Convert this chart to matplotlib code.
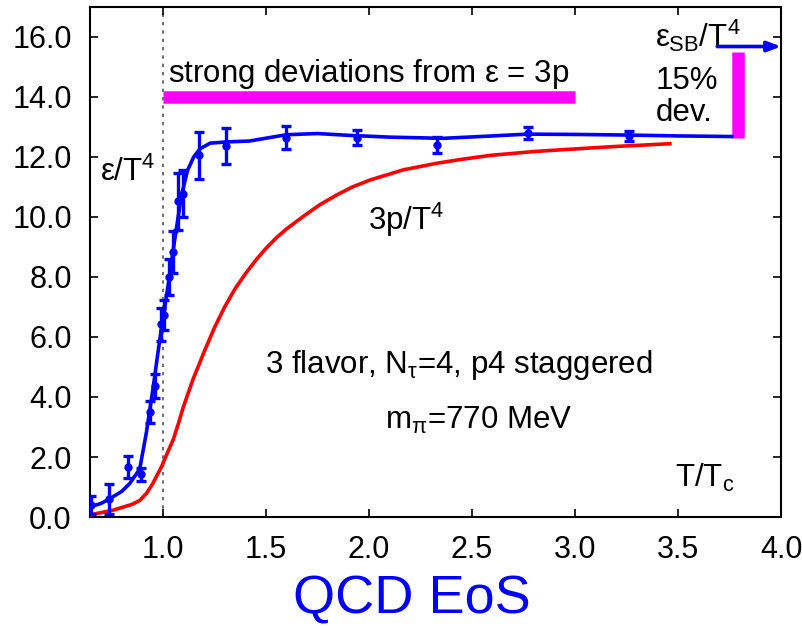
import matplotlib
matplotlib.use("Agg")
import matplotlib.pyplot as plt

plt.rcParams['font.family'] = ['Liberation Sans', 'DejaVu Sans']
plt.rcParams['mathtext.fontset'] = 'custom'
plt.rcParams['mathtext.rm'] = 'Liberation Sans'
plt.rcParams['mathtext.it'] = 'Liberation Sans'

# Lattice data points: energy density eps/T^4 vs T/Tc
eps_T = [0.65, 0.74, 0.833, 0.895, 0.938, 0.961, 0.99, 1.005, 1.028, 1.05,
         1.076, 1.10, 1.177, 1.305, 1.60, 1.94, 2.33, 2.77, 3.26]
eps_val = [0.4, 0.59, 1.66, 1.42, 3.5, 4.37, 6.43, 6.73, 7.99, 8.82,
           10.53, 10.77, 12.05, 12.37, 12.64, 12.64, 12.4, 12.79, 12.7]
eps_err = [0.3, 0.5, 0.37, 0.22, 0.38, 0.4, 0.55, 0.5, 0.6, 0.7,
           0.95, 0.78, 0.77, 0.6, 0.38, 0.25, 0.27, 0.2, 0.17]

# Fit curve for eps/T^4
fit_T = [0.646, 0.70, 0.74, 0.80, 0.84, 0.888, 0.92, 0.953, 0.985, 1.01,
         1.034, 1.058, 1.09, 1.12, 1.15, 1.18, 1.23, 1.31, 1.42, 1.6,
         1.75, 1.9, 2.1, 2.36, 2.6, 2.77, 3.0, 3.25, 3.5, 3.76]
fit_val = [0.34, 0.45, 0.6, 0.85, 1.12, 1.6, 2.8, 4.3, 5.9, 7.0,
           8.1, 9.25, 10.7, 11.55, 12.0, 12.27, 12.46, 12.5, 12.53, 12.74,
           12.78, 12.72, 12.66, 12.62, 12.7, 12.76, 12.75, 12.73, 12.7, 12.68]

# 3p/T^4 curve
p_T = [0.646, 0.76, 0.85, 0.888, 0.921, 0.95, 0.994, 1.02, 1.05, 1.075,
       1.099, 1.147, 1.18, 1.2, 1.25, 1.3, 1.35, 1.4, 1.45, 1.5,
       1.55, 1.6, 1.68, 1.76, 1.843, 1.92, 2.005, 2.167, 2.33, 2.45,
       2.587, 2.8, 2.96, 3.2, 3.46]
p_val = [0.07, 0.23, 0.42, 0.55, 0.79, 1.1, 1.68, 2.1, 2.57, 3.1,
         3.65, 4.6, 5.15, 5.5, 6.3, 7.0, 7.6, 8.1, 8.55, 8.95,
         9.3, 9.6, 10.01, 10.4, 10.73, 11.0, 11.23, 11.57, 11.79, 11.92,
         12.05, 12.18, 12.25, 12.35, 12.44]

x_ticks = [1.0, 1.5, 2.0, 2.5, 3.0, 3.5, 4.0]
y_ticks = [0, 2, 4, 6, 8, 10, 12, 14, 16]

blue = '#0000ff'
red = '#ff0000'
magenta = '#ff00ff'

fig = plt.figure(figsize=(8.02, 6.27), dpi=100)
ax = fig.add_axes([0.112, 0.1754, 0.862, 0.8136])

ax.set_xlim(0.646, 4.0)
ax.set_ylim(0, 17)

# dotted Tc line
ax.axvline(1.0, color='#555555', lw=1.2, ls=(0, (2, 3)), zorder=1)

ax.plot(p_T, p_val, color=red, lw=2.6, zorder=3)
ax.plot(fit_T, fit_val, color=blue, lw=2.6, zorder=4)
ax.errorbar(eps_T, eps_val, yerr=eps_err, fmt='o', color=blue, ms=5,
            elinewidth=2.4, capsize=3.5, capthick=2.4, zorder=5)

# magenta bars
ax.plot([1.0, 3.0], [14.0, 14.0], color=magenta, lw=9, solid_capstyle='butt', zorder=3)
ax.plot([3.79, 3.79], [12.64, 15.51], color=magenta, lw=9, solid_capstyle='butt', zorder=3)

# SB arrow
ax.annotate('', xy=(4.0, 15.68), xytext=(3.69, 15.68),
            arrowprops=dict(arrowstyle='-|>,head_length=0.8,head_width=0.3',
                            color=blue, lw=2.6, shrinkA=0, shrinkB=0),
            annotation_clip=False, zorder=6)

fs = 22.5
ax.text(1.024, 14.5, r'strong deviations from $\epsilon$ = 3p', fontsize=fs, va='baseline')
ax.text(0.694, 11.2, r'$\epsilon$/T$^4$', fontsize=fs, va='baseline')
ax.text(3.39, 15.67, r'$\epsilon_{\mathrm{SB}}$/T$^4$', fontsize=fs, va='baseline')
ax.text(3.39, 14.27, '15%', fontsize=fs, va='baseline')
ax.text(3.39, 13.2, 'dev.', fontsize=fs, va='baseline')
ax.text(1.995, 9.57, r'3p/T$^4$', fontsize=fs, va='baseline')
ax.text(2.437, 4.8, r'3 flavor, N$_\tau$=4, p4 staggered', fontsize=fs,
        va='baseline', ha='center')
ax.text(2.534, 2.95, r'm$_\pi$=770 MeV', fontsize=fs, va='baseline', ha='center')
ax.text(3.485, 1.0, r'T/T$_{\mathrm{c}}$', fontsize=fs, va='baseline')

ax.set_xticks(x_ticks)
ax.set_xticklabels([f'{v:.1f}' for v in x_ticks])
ax.set_yticks(y_ticks)
ax.set_yticklabels([f'{v:.1f}' for v in y_ticks])
ax.tick_params(direction='in', length=6, width=1.2, labelsize=22,
               top=True, right=True, pad=13)
for s in ax.spines.values():
    s.set_linewidth(1.5)

fig.text(0.513, 0.022, 'QCD EoS', color=blue, fontsize=39, ha='center', va='baseline')

fig.savefig('out.png', dpi=100)
